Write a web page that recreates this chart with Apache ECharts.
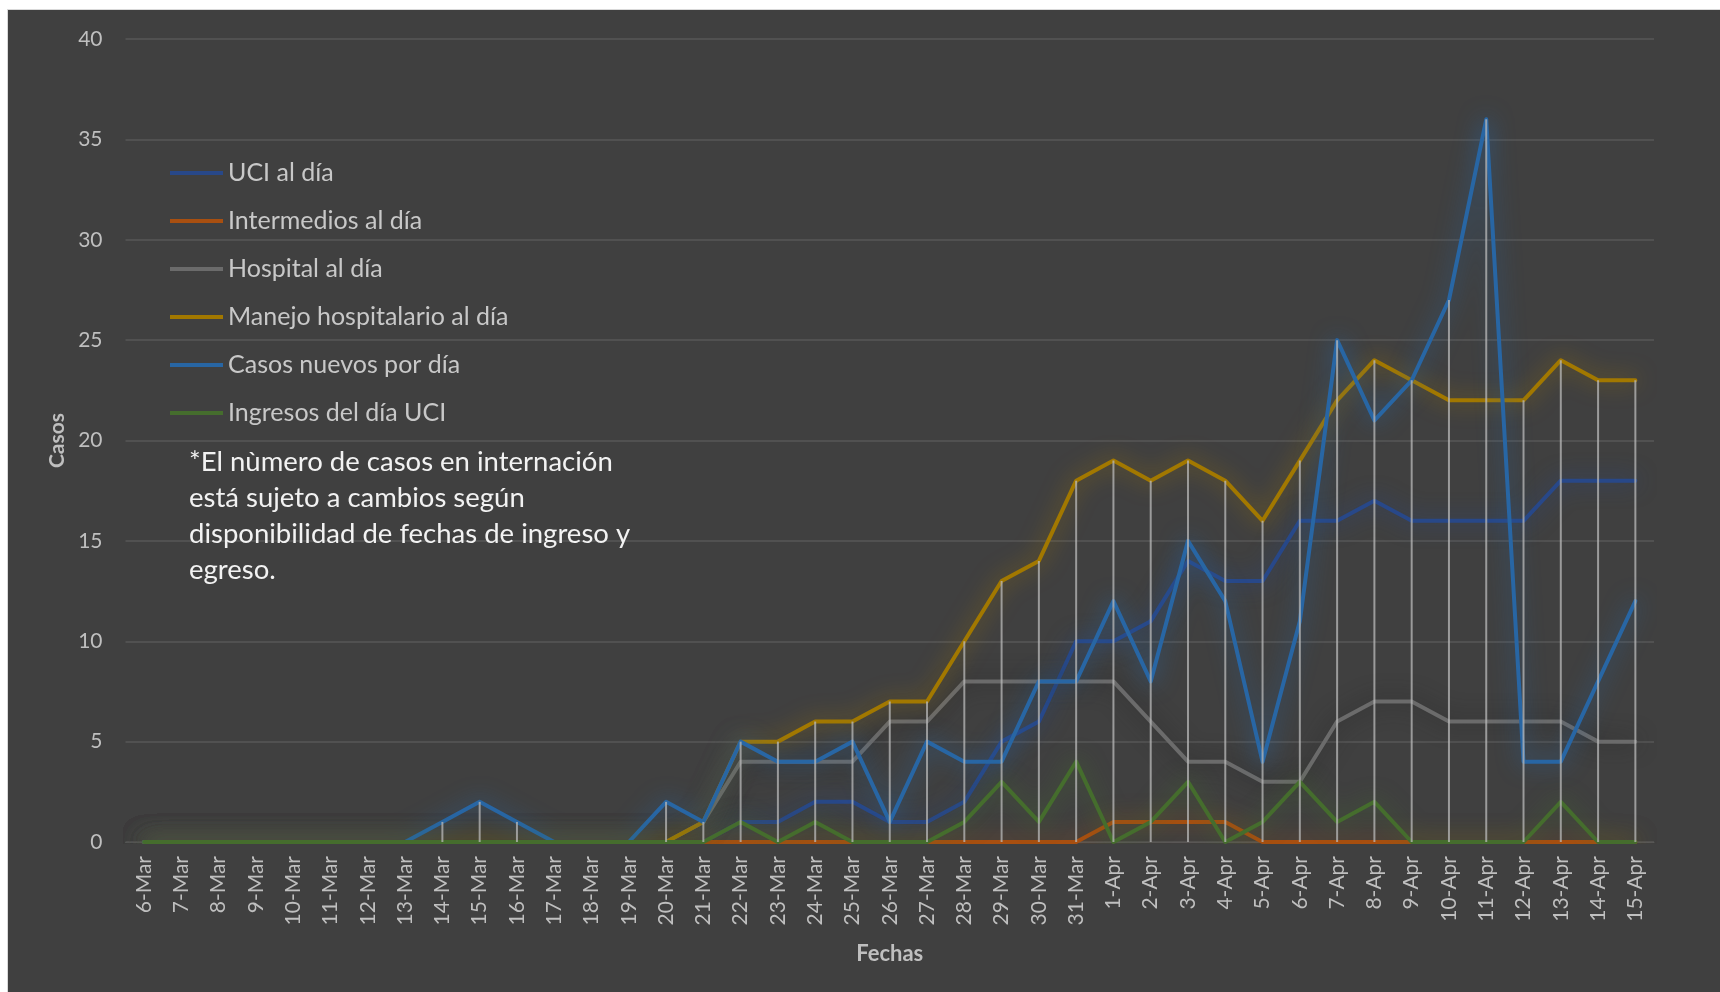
<!DOCTYPE html>
<html>
<head>
<meta charset="utf-8">
<script src="https://cdn.jsdelivr.net/npm/echarts@6/dist/echarts.min.js"></script>
<style>
  html, body { margin: 0; padding: 0; background: #ffffff; }
  #chart { width: 1720px; height: 992px; }
</style>
</head>
<body>
<div id="chart"></div>
<script>
// Dates on the category axis
const fechas = [
  '6-Mar', '7-Mar', '8-Mar', '9-Mar', '10-Mar', '11-Mar', '12-Mar', '13-Mar', '14-Mar', '15-Mar',
  '16-Mar', '17-Mar', '18-Mar', '19-Mar', '20-Mar', '21-Mar', '22-Mar', '23-Mar', '24-Mar', '25-Mar',
  '26-Mar', '27-Mar', '28-Mar', '29-Mar', '30-Mar', '31-Mar',
  '1-Apr', '2-Apr', '3-Apr', '4-Apr', '5-Apr', '6-Apr', '7-Apr', '8-Apr', '9-Apr', '10-Apr',
  '11-Apr', '12-Apr', '13-Apr', '14-Apr', '15-Apr'
];

// Daily counts per series
const uciAlDia = [
  0, 0, 0, 0, 0, 0, 0, 0, 0, 0, 0, 0, 0, 0, 0, 0, 1, 1, 2, 2,
  1, 1, 2, 5, 6, 10,
  10, 11, 14, 13, 13, 16, 16, 17, 16, 16, 16, 16, 18, 18, 18
];
const intermediosAlDia = [
  0, 0, 0, 0, 0, 0, 0, 0, 0, 0, 0, 0, 0, 0, 0, 0, 0, 0, 0, 0,
  0, 0, 0, 0, 0, 0,
  1, 1, 1, 1, 0, 0, 0, 0, 0, 0, 0, 0, 0, 0, 0
];
const hospitalAlDia = [
  0, 0, 0, 0, 0, 0, 0, 0, 0, 0, 0, 0, 0, 0, 0, 1, 4, 4, 4, 4,
  6, 6, 8, 8, 8, 8,
  8, 6, 4, 4, 3, 3, 6, 7, 7, 6, 6, 6, 6, 5, 5
];
const manejoHospitalario = [
  0, 0, 0, 0, 0, 0, 0, 0, 0, 0, 0, 0, 0, 0, 0, 1, 5, 5, 6, 6,
  7, 7, 10, 13, 14, 18,
  19, 18, 19, 18, 16, 19, 22, 24, 23, 22, 22, 22, 24, 23, 23
];
const casosNuevos = [
  0, 0, 0, 0, 0, 0, 0, 0, 1, 2, 1, 0, 0, 0, 2, 1, 5, 4, 4, 5,
  1, 5, 4, 4, 8, 8,
  12, 8, 15, 12, 4, 11, 25, 21, 23, 27, 36, 4, 4, 8, 12
];
const ingresosUci = [
  0, 0, 0, 0, 0, 0, 0, 0, 0, 0, 0, 0, 0, 0, 0, 0, 1, 0, 1, 0,
  0, 0, 1, 3, 1, 4,
  0, 1, 3, 0, 1, 3, 1, 2, 0, 0, 0, 0, 2, 0, 0
];

// Value-axis ticks
const yMin = 0, yMax = 40, yStep = 5;

const serieDefs = [
  { name: 'UCI al día', data: uciAlDia, color: '#284889', glow: 'rgba(40,72,137,0.9)' },
  { name: 'Intermedios al día', data: intermediosAlDia, color: '#a84f10', glow: 'rgba(168,79,16,0.8)' },
  { name: 'Hospital al día', data: hospitalAlDia, color: '#6b6b6b', glow: 'rgba(35,35,35,0.9)' },
  { name: 'Manejo hospitalario al día', data: manejoHospitalario, color: '#a27800', glow: 'rgba(162,120,0,0.85)' },
  { name: 'Casos nuevos por día', data: casosNuevos, color: '#2866a4', glow: 'rgba(40,102,164,0.9)' },
  { name: 'Ingresos del día UCI', data: ingresosUci, color: '#456d2d', glow: 'rgba(69,109,45,0.85)' }
];

// Drop lines: highest value of the day down to the axis
const dropTops = fechas.map((_, i) => Math.max(...serieDefs.map(s => s.data[i])));

const lineSeries = serieDefs.map((s, k) => ({
  name: s.name,
  type: 'line',
  data: s.data,
  showSymbol: false,
  symbol: 'none',
  smooth: false,
  z: 2 + k,
  color: s.color,
  lineStyle: {
    color: s.color,
    width: 4,
    cap: 'round',
    join: 'round',
    shadowBlur: 22,
    shadowColor: s.glow
  },
  emphasis: { disabled: true }
}));

const dropSeries = {
  name: 'drop',
  type: 'custom',
  data: dropTops.map((v, i) => [i, v]),
  z: 20,
  silent: true,
  renderItem: function (params, api) {
    const top = api.value(1);
    if (!(top > 0)) return null;
    const p1 = api.coord([api.value(0), top]);
    const p0 = api.coord([api.value(0), 0]);
    return {
      type: 'line',
      shape: { x1: p1[0], y1: p1[1], x2: p0[0], y2: p0[1] },
      style: { stroke: 'rgba(185,185,185,0.75)', lineWidth: 2 }
    };
  }
};

const chart = echarts.init(document.getElementById('chart'), null, { renderer: 'canvas' });
chart.setOption({
  backgroundColor: '#404040',
  animation: false,
  textStyle: { fontFamily: 'Lato' },
  grid: { left: 125.5, right: 66, top: 39, bottom: 150, containLabel: false },
  legend: {
    data: serieDefs.map(s => s.name),
    orient: 'vertical',
    left: 165,
    top: 155,
    padding: 5,
    icon: 'rect',
    itemWidth: 53,
    itemHeight: 4,
    itemGap: 22,
    textStyle: { color: '#c8c8c8', fontSize: 25, lineHeight: 26, fontFamily: 'Lato' },
    selectedMode: false
  },
  xAxis: {
    type: 'category',
    data: fechas,
    boundaryGap: true,
    name: 'Fechas',
    nameLocation: 'middle',
    nameGap: 101,
    nameTextStyle: { color: '#bfbfbf', fontSize: 22, fontWeight: 'bold', fontFamily: 'Lato' },
    axisLine: { show: true, lineStyle: { color: '#595959', width: 1 } },
    axisTick: { show: false },
    axisLabel: {
      interval: 0,
      rotate: 90,
      margin: 14,
      color: '#bfbfbf',
      fontSize: 21,
      fontFamily: 'Lato'
    },
    splitLine: { show: false }
  },
  yAxis: {
    type: 'value',
    min: yMin,
    max: yMax,
    interval: yStep,
    name: 'Casos',
    nameLocation: 'middle',
    nameGap: 58,
    nameRotate: 90,
    nameTextStyle: { color: '#bfbfbf', fontSize: 21, fontWeight: 'bold', fontFamily: 'Lato' },
    axisLine: { show: false },
    axisTick: { show: false },
    axisLabel: { color: '#bfbfbf', fontSize: 21, margin: 23, fontFamily: 'Lato' },
    splitLine: { lineStyle: { color: '#575757', width: 1.5 } }
  },
  graphic: [
    { type: 'rect', left: 0, top: 0, shape: { width: 8, height: 992 }, style: { fill: '#ffffff' }, z: 100 },
    { type: 'rect', left: 0, top: 0, shape: { width: 1720, height: 10 }, style: { fill: '#ffffff' }, z: 100 },
    { type: 'rect', left: 7, top: 9, shape: { width: 1, height: 983 }, style: { fill: '#d9d9d9' }, z: 101 },
    { type: 'rect', left: 7, top: 9, shape: { width: 1713, height: 1 }, style: { fill: '#d9d9d9' }, z: 101 },
    {
      type: 'text',
      left: 189,
      top: 444,
      z: 50,
      style: {
        text: '*El nùmero de casos en internación\nestá sujeto a cambios según\ndisponibilidad de fechas de ingreso y\negreso.',
        fill: '#f2f2f2',
        fontSize: 27.5,
        lineHeight: 36,
        fontFamily: 'Lato'
      }
    }
  ],
  series: [...lineSeries, dropSeries]
});
</script>
</body>
</html>
